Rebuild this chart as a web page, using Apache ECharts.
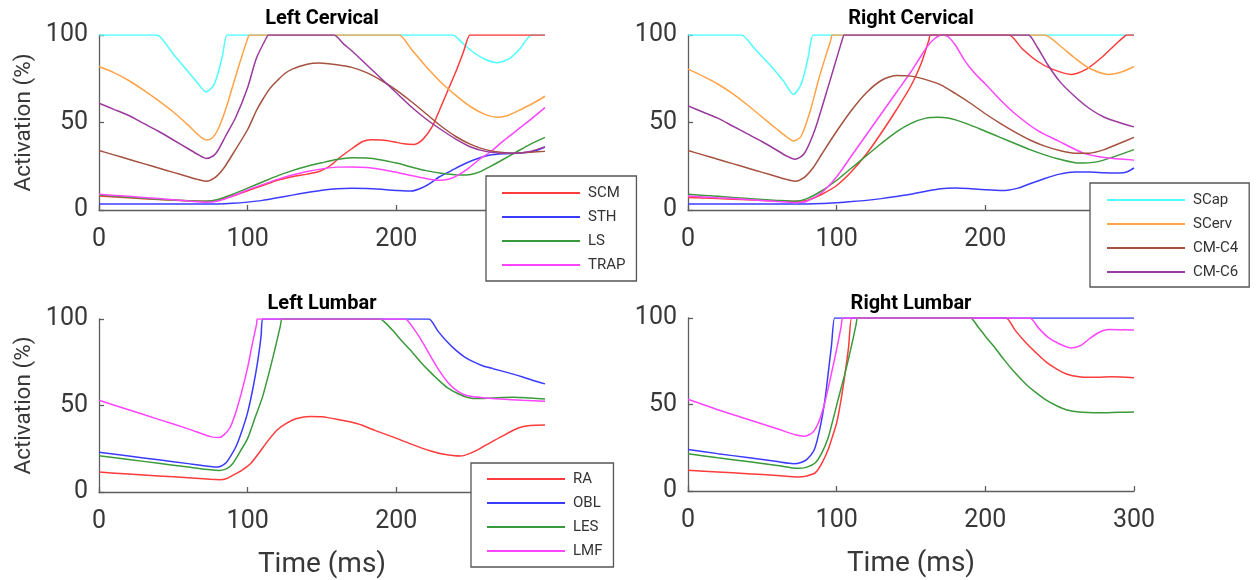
<!DOCTYPE html>
<html>
<head>
<meta charset="utf-8">
<script src="https://cdn.jsdelivr.net/npm/echarts/dist/echarts.min.js"></script>
<style>html,body{margin:0;padding:0;background:#fff;}#c{width:1256px;height:580px;}</style>
</head>
<body>
<div id="c"></div>
<script>
// ---------- Data: [time (ms), activation (%)] ----------
const LC_SCap = [[0,100],[37,100],[39,100],[50,89],[60,79],[66,73],[72,67.5],[77,71],[80,78],[83,88],[86,100],[88,100],[236,100],[238,100],[245,95],[252,90],[260,86],[268,84.2],[276,86.5],[283,92],[291,100],[293,100],[300,100]];
const LC_SCM = [[0,8],[20,7],[40,6],[60,5.3],[72,5],[80,5.5],[90,8],[100,11],[110,14],[120,17],[130,19],[140,20.5],[148,22],[155,25],[162,30],[170,35],[177,39],[183,40.2],[190,40],[198,39],[205,37.8],[212,37.5],[218,40.5],[224,47.5],[229,57],[235,69],[240,79],[245,90],[249.5,100],[251.5,100],[300,100]];
const LC_STH = [[0,3.5],[40,3.5],[80,3.5],[90,3.8],[100,4.5],[110,5.5],[120,7],[130,8.5],[140,10],[150,11.3],[160,12.2],[170,12.5],[180,12.3],[190,11.8],[200,11.2],[210,10.8],[218,13],[224,16],[229,19],[237,22.5],[245,26],[252,28.6],[263,31.4],[273,32.2],[283,32.5],[292,33.5],[300,36]];
const LC_LS = [[0,8.5],[20,7.3],[40,6.2],[60,5.3],[72,5],[80,6],[90,9],[100,12.5],[110,16],[120,19.5],[130,22.5],[140,25],[150,27],[160,28.8],[170,29.8],[180,29.7],[190,28.6],[200,26.8],[210,24.6],[220,22.5],[230,21],[243,20],[250,20.3],[256,21.8],[263,24.8],[270,28],[281,33.3],[290,37.5],[300,41.5]];
const LC_TRAP = [[0,9],[20,7.8],[40,6.6],[60,5.2],[72,4.5],[80,5.2],[90,8],[100,11.5],[110,14.5],[120,17.5],[130,20],[140,22],[150,23.5],[160,24.5],[170,24.6],[180,24.3],[190,23.2],[200,21.6],[210,19.7],[220,18],[229,17],[235,17.6],[240,19.2],[248,23.5],[256,29],[263,33],[272,39.5],[281,45.5],[290,51.5],[300,58.5]];
const LC_SCerv = [[0,82],[10,78.5],[20,74],[30,68.5],[40,62.5],[50,56],[60,48.5],[66,43.5],[72,40],[76,41],[80,46],[85,57],[90,71],[95,85],[100,98],[101,100],[103,100],[200,100],[202,100],[210,92],[220,82],[230,73],[240,65.5],[250,59],[260,54.5],[268,53],[275,54],[285,58],[292,61],[300,65]];
const LC_CMC4 = [[0,34],[10,31.5],[20,29],[30,26.5],[40,24],[50,21.5],[60,19],[66,17.5],[72,16.5],[78,18.5],[84,24],[90,32],[100,46],[106,57],[110,63],[115,69.5],[120,74],[125,78],[130,80.5],[140,83.3],[148,84],[160,83],[170,81.5],[180,78.5],[190,74],[200,68.5],[210,62],[220,55],[230,48],[240,42],[250,37.5],[260,34.5],[270,33],[280,32.5],[290,33],[300,33.5]];
const LC_CMC6 = [[0,61],[10,57.5],[20,54],[30,49.5],[40,45],[50,40],[60,35],[66,32],[72,29.5],[77,31],[80,34],[85,42],[92,53],[100,70],[106,87],[113,99],[114,100],[116,100],[156,100],[158,100],[165,94.5],[170,91],[180,83],[190,75],[200,67],[210,59],[220,52],[230,46],[240,40.5],[250,36],[260,33.5],[270,32.5],[280,32.5],[290,33.5],[300,36]];

const RC_SCap = [[0,100],[34,100],[36,100],[45,92],[55,83],[64,74],[71,66],[75,70],[78,77],[81,88],[84,100],[86,100],[300,100]];
const RC_SCM = [[0,7.2],[20,6.5],[40,5.8],[60,5.2],[72,5],[80,5.5],[90,9],[100,14],[110,22],[120,32],[130,44],[140,57],[150,71],[157,84],[162,97],[163,100],[165,100],[214,100],[216,100],[225,92],[235,85],[245,80.5],[258,77.5],[268,80.5],[278,87],[288,95],[294,99.5],[295,100],[300,100]];
const RC_STH = [[0,3.5],[40,3.5],[80,3.5],[90,3.7],[100,4.2],[110,4.8],[120,5.5],[130,6.5],[140,7.7],[150,9],[160,10.7],[170,12.2],[180,12.6],[190,12.2],[200,11.6],[210,11.2],[215,11.3],[222,12.5],[230,15],[240,18],[250,20.5],[260,21.7],[270,21.7],[280,21.3],[290,21.2],[295,21.7],[300,24]];
const RC_LS = [[0,9],[20,7.8],[40,6.6],[60,5.5],[72,5],[80,6.5],[90,11],[100,17],[110,24],[120,31],[130,38],[140,44.5],[150,49.5],[160,52.5],[168,53],[175,52.6],[180,51.5],[190,48.5],[200,45],[210,41.5],[220,38],[230,34.5],[240,31.5],[250,29],[263,26.8],[275,27.5],[285,30],[300,34.5]];
const RC_TRAP = [[0,8],[20,7],[40,6],[60,4.8],[72,4.2],[80,5],[90,10],[100,19],[110,31],[120,43],[130,55],[140,67],[150,79],[156,87],[161,93.5],[166,98],[171,100],[175,99],[180,94],[186,85.5],[193,78],[200,72],[210,63],[220,55],[235,45.5],[249,39.5],[266,32.5],[280,30],[300,28.5]];
const RC_SCerv = [[0,80.5],[10,76.5],[20,72],[30,66.5],[40,60],[50,53],[60,46],[66,42],[71,39.5],[76,42],[82,56],[88,75],[93,89],[96,97],[97,100],[99,100],[238,100],[240,100],[250,94],[260,87],[270,81],[283,77.5],[292,79],[300,82]];
const RC_CMC4 = [[0,34],[10,31.5],[20,29],[30,26.5],[40,24],[50,21.5],[60,19],[66,17.5],[72,16.5],[78,18.5],[84,24],[90,32],[100,45],[110,57],[120,67],[130,74],[140,76.8],[150,76.5],[160,74.5],[170,71.5],[180,66.5],[190,61],[200,55],[210,49.5],[220,44.5],[230,40],[240,36.5],[250,34],[260,32.5],[270,32.5],[280,34.5],[290,38],[300,41.5]];
const RC_CMC6 = [[0,59.5],[10,56],[20,52.5],[30,48],[40,43.5],[50,39],[60,34],[66,31],[72,29],[78,32],[85,45],[92,64],[98,81],[104,98],[105,100],[107,100],[227,100],[229,100],[235,93],[242,83],[250,73.5],[260,65],[270,58],[280,53],[290,50],[300,47.5]];

const LL_RA = [[0,11.5],[20,10.4],[40,9.3],[60,8.2],[75,7.3],[81,7.1],[86,7.8],[90,9.6],[96,12.5],[102,16.5],[108,23],[114,30],[120,36],[126,39.7],[133,42.5],[142,43.7],[150,43.5],[160,42],[174,39.4],[186,35.5],[198,31.7],[210,27.7],[222,24],[232,21.8],[243,20.8],[250,22.5],[258,26],[270,31.7],[282,37],[290,38.5],[300,38.8]];
const LL_OBL = [[0,23],[20,20.8],[40,18.6],[60,16.4],[75,14.8],[80,14.5],[85,16.5],[88,20],[92,26],[96,35],[100,46],[104,62],[107,77],[109,90],[110,100],[112,100],[220,100],[222,100],[228,93],[234,87],[240,82],[246,78],[252,75.2],[258,73],[265,71.3],[275,69],[285,66.5],[292,64.5],[300,62.5]];
const LL_LES = [[0,21],[20,18.8],[40,16.6],[60,14.4],[75,12.8],[81,12.5],[86,13.5],[90,16.5],[95,23.5],[100,31],[105,43],[110,55],[115,71],[119,85],[122,96],[123,100],[125,100],[187,100],[189,100],[193,97.5],[198,93],[204,87],[210,81.5],[216,75.5],[222,70],[228,65],[234,60.5],[240,57.5],[246,55.2],[253,54],[265,54.4],[279,54.8],[290,54.3],[300,53.7]];
const LL_LMF = [[0,53],[20,47.5],[40,42],[60,36.5],[75,32],[81,31.5],[84,33],[88,37],[92,46],[96,58],[100,72],[103,85],[106,97],[106.5,100],[108.5,100],[204,100],[206,100],[212,94],[217,87.5],[223,78.5],[229,70],[235,63],[240,59],[245,56.5],[250,55.3],[260,54.3],[270,53.8],[285,53],[300,52.5]];

const RL_RA = [[0,12],[20,11],[40,10],[60,9],[74,8.1],[80,8.7],[85.7,10.6],[90,16],[94.3,24],[97,31],[100,39.4],[103,53],[105.7,68.3],[108,83],[110,100],[112,100],[212,100],[214,100],[220,93],[227,86],[234,80],[241,74.5],[248.6,70.2],[255,67.5],[263,66],[270,65.7],[277,65.8],[285,66],[300,65.4]];
const RL_OBL = [[0,24],[20,21.6],[40,19.3],[60,17],[71,15.8],[76,16.5],[80,18.3],[85,24],[88.6,35.6],[92,52],[94.3,68],[96.5,84],[98.6,100],[100.6,100],[300,100]];
const RL_LES = [[0,21.5],[20,19.2],[40,17],[60,14.8],[74,13.1],[80,13.8],[85.7,16.3],[90,22],[94,30],[97,39.4],[101,53],[105.7,68.3],[110,84],[113,96],[114,100],[116,100],[188,100],[190,100],[195,95],[200,89.5],[205.7,83.7],[212,76.5],[220,68.3],[227,62],[234.3,56.7],[241,52.5],[248.6,49],[255,46.8],[263,45.6],[277,45.2],[290,45.5],[300,45.6]];
const RL_LMF = [[0,53],[20,47],[40,41.5],[60,36],[72,32.5],[78.6,31.7],[84,34],[88,40],[92,51],[96,66],[100,82],[103,95],[104,100],[106,100],[228,100],[230,100],[236,94],[242,89],[250,85],[258,82.7],[264,84],[270,88],[276,91.5],[283,93.3],[300,93]];

const PANEL_TITLES = ['Left Cervical', 'Right Cervical', 'Left Lumbar', 'Right Lumbar'];
const X_TICKS = [0, 100, 200, 300];
const Y_TICKS = [0, 50, 100];
const LEGEND_CERV_L = ['SCM', 'STH', 'LS', 'TRAP'];
const LEGEND_CERV_R = ['SCap', 'SCerv', 'CM-C4', 'CM-C6'];
const LEGEND_LUMB = ['RA', 'OBL', 'LES', 'LMF'];

const COLORS = {
  SCM: '#ff3b3b', STH: '#3b3bff', LS: '#3a9a3a', TRAP: '#ff45ff',
  SCap: '#4dffff', SCerv: '#ffa347', 'CM-C4': '#a5523f', 'CM-C6': '#9a3a9e',
  RA: '#ff3b3b', OBL: '#3b3bff', LES: '#3a9a3a', LMF: '#ff45ff'
};

// ---------- Layout ----------
const GRIDS = [
  {left: 99, top: 35, width: 446, height: 175},
  {left: 688, top: 35, width: 446, height: 175},
  {left: 99, top: 319, width: 446, height: 173},
  {left: 688, top: 318, width: 446, height: 173}
];
const AX = '#5e5e5e';
const FONT = 'Roboto';

function mkSeries(name, data, idx) {
  return {
    name: name, type: 'line', xAxisIndex: idx, yAxisIndex: idx,
    data: data, symbol: 'none', showSymbol: false, smooth: 0.25,
    lineStyle: {width: 1.5, color: COLORS[name]}, itemStyle: {color: COLORS[name]},
    emphasis: {disabled: true}, animation: false
  };
}

function mkX(idx, withName) {
  return {
    gridIndex: idx, type: 'value', min: X_TICKS[0], max: X_TICKS[X_TICKS.length - 1], interval: 100,
    axisLine: {show: true, onZero: false, lineStyle: {color: AX, width: 1.3}},
    axisTick: {show: true, inside: true, length: 5, lineStyle: {color: AX, width: 1.3}},
    axisLabel: {fontFamily: FONT, fontSize: 25, color: '#383838', margin: 17},
    splitLine: {show: false},
    name: withName ? 'Time (ms)' : '', nameLocation: 'middle', nameGap: 59,
    nameTextStyle: {fontFamily: FONT, fontSize: 28, color: '#383838'}
  };
}
function mkY(idx, withName) {
  return {
    gridIndex: idx, type: 'value', min: Y_TICKS[0], max: Y_TICKS[Y_TICKS.length - 1], interval: 50,
    axisLine: {show: true, onZero: false, lineStyle: {color: AX, width: 1.3}},
    axisTick: {show: true, inside: true, length: 5, lineStyle: {color: AX, width: 1.3}},
    axisLabel: {fontFamily: FONT, fontSize: 25, color: '#383838', margin: 11},
    splitLine: {show: false},
    name: withName ? 'Activation (%)' : '', nameLocation: 'middle', nameGap: 63,
    nameTextStyle: {fontFamily: FONT, fontSize: 22.5, color: '#383838'}
  };
}
function mkLegend(names, left, top, pad) {
  return {
    data: names, orient: 'vertical', left: left, top: top,
    itemWidth: 78, itemHeight: 2, icon: 'rect', itemGap: 8,
    padding: pad, backgroundColor: '#fff', borderColor: '#555', borderWidth: 1.3, borderRadius: 0,
    itemStyle: {borderWidth: 0},
    textStyle: {fontFamily: FONT, fontSize: 15, color: '#333', lineHeight: 16, padding: [0, 0, 0, 3]},
    selectedMode: false, z: 10
  };
}

const cervOrder = ['SCap', 'SCM', 'STH', 'LS', 'TRAP', 'SCerv', 'CM-C4', 'CM-C6'];
const LC = {SCap: LC_SCap, SCM: LC_SCM, STH: LC_STH, LS: LC_LS, TRAP: LC_TRAP, SCerv: LC_SCerv, 'CM-C4': LC_CMC4, 'CM-C6': LC_CMC6};
const RC = {SCap: RC_SCap, SCM: RC_SCM, STH: RC_STH, LS: RC_LS, TRAP: RC_TRAP, SCerv: RC_SCerv, 'CM-C4': RC_CMC4, 'CM-C6': RC_CMC6};
const LL = {RA: LL_RA, OBL: LL_OBL, LES: LL_LES, LMF: LL_LMF};
const RL = {RA: RL_RA, OBL: RL_OBL, LES: RL_LES, LMF: RL_LMF};

const series = [];
cervOrder.forEach(n => series.push(mkSeries(n, LC[n], 0)));
cervOrder.forEach(n => series.push(mkSeries(n, RC[n], 1)));
LEGEND_LUMB.forEach(n => series.push(mkSeries(n, LL[n], 2)));
LEGEND_LUMB.forEach(n => series.push(mkSeries(n, RL[n], 3)));

const titlePos = [[322, 19], [911, 19], [322, 303.5], [911, 303.5]];
const graphics = PANEL_TITLES.map((t, i) => ({
  type: 'text', x: titlePos[i][0], y: titlePos[i][1], z: 20,
  style: {text: t, font: 'bold 20px Roboto', fill: '#000', align: 'center', verticalAlign: 'middle', textAlign: 'center', textVerticalAlign: 'middle'}
}));

const option = {
  backgroundColor: '#fff',
  animation: false,
  textStyle: {fontFamily: FONT},
  grid: GRIDS.map(g => Object.assign({containLabel: false, outerBoundsMode: 'none'}, g)),
  xAxis: [mkX(0, false), mkX(1, false), mkX(2, true), mkX(3, true)],
  yAxis: [mkY(0, true), mkY(1, false), mkY(2, true), mkY(3, false)],
  legend: [
    mkLegend(LEGEND_CERV_L, 486, 176, [9, 11, 8, 16]),
    mkLegend(LEGEND_CERV_R, 1090, 183, [9, 11, 7, 17]),
    mkLegend(LEGEND_LUMB, 471, 463, [8, 11, 8, 16])
  ],
  graphic: graphics,
  series: series
};

const chart = echarts.init(document.getElementById('c'), null, {renderer: 'canvas'});
chart.setOption(option);
</script>
</body>
</html>
